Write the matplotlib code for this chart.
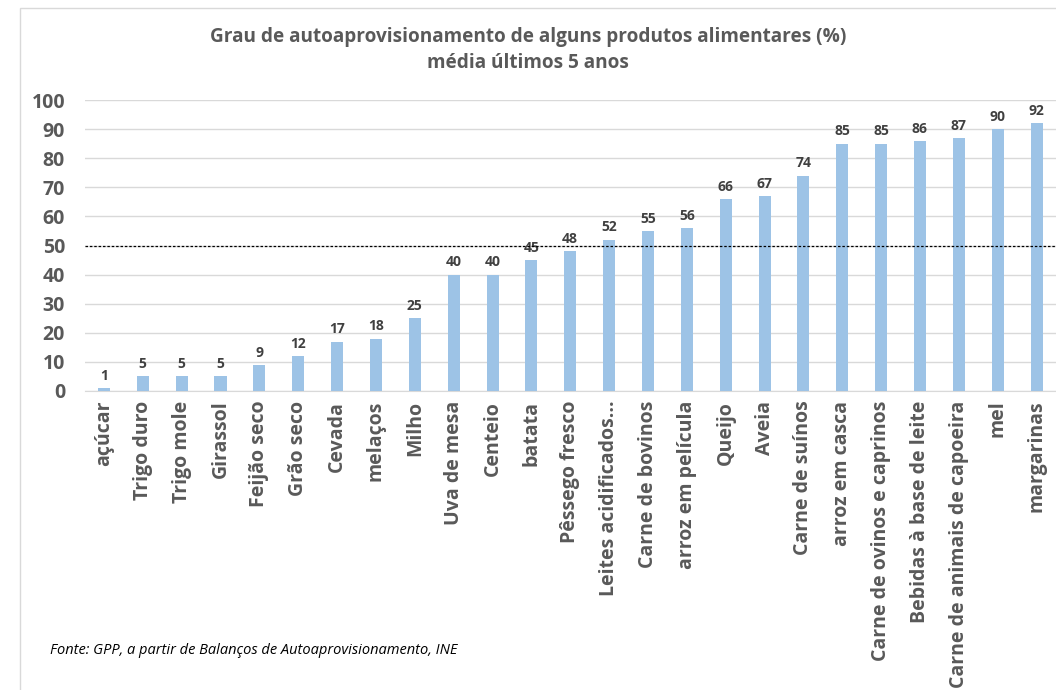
import matplotlib.pyplot as plt
from matplotlib.patches import Rectangle

plt.rcParams['font.family'] = ['Open Sans', 'DejaVu Sans']

produtos = ['açúcar', 'Trigo duro', 'Trigo mole', 'Girassol', 'Feijão seco', 'Grão seco',
            'Cevada', 'melaços', 'Milho', 'Uva de mesa', 'Centeio', 'batata',
            'Pêssego fresco', 'Leites acidificados...', 'Carne de bovinos', 'arroz em película',
            'Queijo', 'Aveia', 'Carne de suínos', 'arroz em casca', 'Carne de ovinos e caprinos',
            'Bebidas à base de leite', 'Carne de animais de capoeira', 'mel', 'margarinas']
valores = [1, 5, 5, 5, 9, 12, 17, 18, 25, 40, 40, 45, 48, 52, 55, 56, 66, 67, 74, 85, 85, 86, 87, 90, 92]
rotulos = [1, 5, 5, 5, 9, 12, 17, 18, 25, 40, 40, 45, 48, 52, 55, 56, 66, 67, 74, 85, 85, 86, 87, 90, 92]
referencia = 50

cinza = '#595959'
fig = plt.figure(figsize=(10.56, 6.9), dpi=100)
# moldura do gráfico
fig.patches.append(Rectangle((20/1056, -0.1), 1.2, 1.1 - 8/690, transform=fig.transFigure,
                             fill=False, edgecolor='#d9d9d9', linewidth=1))

ax = fig.add_axes([84.5/1056, 1 - 391/690, (1056 - 84.5)/1056, 291/690])
x = range(len(produtos))
ax.bar(x, valores, width=0.31, color='#9dc3e6', zorder=3)
for i, (v, r) in enumerate(zip(valores, rotulos)):
    ax.text(i, v + 1.8, str(r), ha='center', va='bottom', fontsize=10, fontweight='bold', color='#404040')

ax.axhline(referencia, color='black', linestyle=(0, (2, 1.5)), linewidth=0.9, zorder=4)

ax.set_ylim(0, 100)
ax.set_xlim(-0.5, len(produtos) - 0.5)
ax.set_yticks(range(0, 101, 10))
ax.yaxis.grid(True, color='#d9d9d9', linewidth=1)
ax.set_axisbelow(True)
for s in ['top', 'right', 'left']:
    ax.spines[s].set_visible(False)
ax.spines['bottom'].set_color('#d9d9d9')
ax.tick_params(length=0)
ax.tick_params(axis='y', labelsize=14, labelcolor=cinza, pad=14)
for t in ax.get_yticklabels():
    t.set_fontweight('bold')
ax.set_xticks(list(x))
ax.set_xticklabels(produtos, rotation=90, fontsize=14, color=cinza, fontweight='bold')
ax.tick_params(axis='x', pad=7)

fig.text(0.5, 1 - 50/690, 'Grau de autoaprovisionamento de alguns produtos alimentares (%)\nmédia últimos 5 anos',
         ha='center', va='center', fontsize=13.7, fontweight='bold', color=cinza, linespacing=1.45)
fig.text(50/1056, 1 - 650/690, 'Fonte: GPP, a partir de Balanços de Autoaprovisionamento, INE',
         ha='left', va='center', fontsize=10.5, style='italic', color='black')

plt.savefig('out.png', dpi=100)
